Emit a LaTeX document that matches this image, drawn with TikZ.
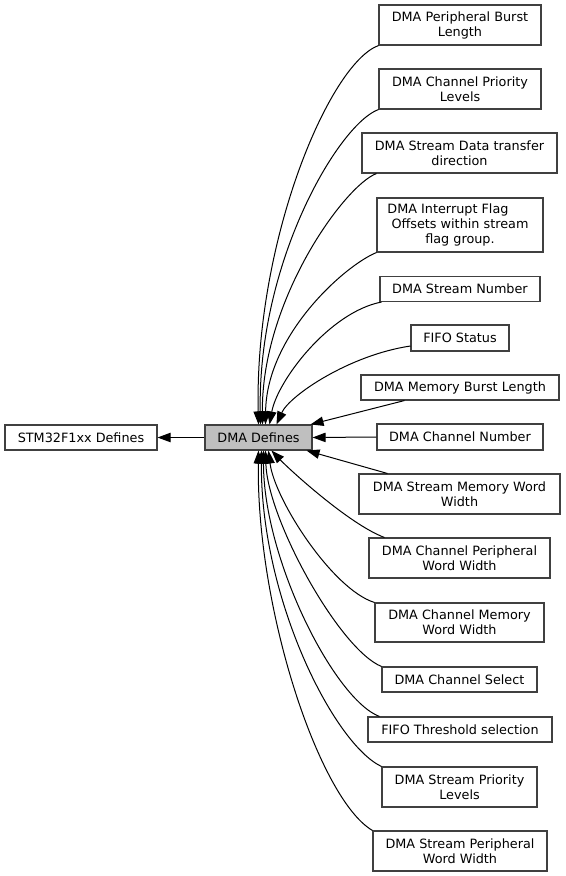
\documentclass[tikz,border=0pt]{standalone}
\usepackage{fontspec}
\setmainfont{DejaVu Sans}
\usetikzlibrary{arrows.meta,calc}
\definecolor{bd}{HTML}{404040}
\definecolor{hl}{HTML}{BFBFBF}
\tikzset{
  box/.style={draw=bd, line width=0.8pt, fill=white, inner sep=0pt, align=center,
    font=\fontsize{9.6pt}{11.3pt}\selectfont},
  wh/.style 2 args={minimum width=#1*0.75pt, minimum height=#2*0.75pt},
  edge/.style={draw=black, line width=0.75pt, -{Triangle[length=9.75pt,width=7pt]}}
}
\begin{document}
\begin{tikzpicture}[x=0.75pt,y=-0.75pt]
\useasboundingbox (0,0) rectangle (565,876);
% left nodes
\node[box, wh={152}{25}] (stm) at (81,437.5) {STM32F1xx Defines};
\node[box, wh={107}{25}, fill=hl] (dma) at (258.5,437.5) {DMA Defines};
% right nodes
\node[box, wh={162}{40}] (n1) at (460,25) {DMA Peripheral Burst\\Length};
\node[box, wh={162}{40}] (n2) at (460,89) {DMA Channel Priority\\Levels};
\node[box, wh={195}{40}] (n3) at (459.5,153) {DMA Stream Data transfer\\direction};
\node[box, wh={166}{54}] (n4) at (460,225) {DMA Interrupt Flag\hspace*{18pt}\\Offsets within stream\\flag group.};
\node[box, wh={160}{25}] (n5) at (460,289) {DMA Stream Number};
\node[box, wh={98}{26}] (n6) at (460,338) {FIFO Status};
\node[box, wh={198}{25}] (n7) at (460,387.5) {DMA Memory Burst Length};
\node[box, wh={166}{26}] (n8) at (460,437) {DMA Channel Number};
\node[box, wh={201}{40}] (n9) at (459.5,494) {DMA Stream Memory Word\\Width};
\node[box, wh={181}{40}] (n10) at (459.5,558) {DMA Channel Peripheral\\Word Width};
\node[box, wh={169}{39}] (n11) at (459.5,622.5) {DMA Channel Memory\\Word Width};
\node[box, wh={155}{25}] (n12) at (459.5,679.5) {DMA Channel Select};
\node[box, wh={184}{25}] (n13) at (460,729.5) {FIFO Threshold selection};
\node[box, wh={155}{40}] (n14) at (459.5,787) {DMA Stream Priority\\Levels};
\node[box, wh={174}{40}] (n15) at (460,851) {DMA Stream Peripheral\\Word Width};
% edges
\draw[edge] (dma.west) -- (stm.east);
\draw[edge] (n1.south west) .. controls +(-49,18) and +(-4,-184) .. ($(dma.north west)+(54,0)$);
\draw[edge] (n2.south west) .. controls +(-39,14) and +(-3,-164) .. ($(dma.north west)+(56,0)$);
\draw[edge] ($(n3.south west)+(15,0)$) .. controls +(-32,12) and +(-1,-124) .. ($(dma.north west)+(58,0)$);
\draw[edge] (n4.south west) .. controls +(-32,13) and +(1,-89) .. ($(dma.north west)+(61,0)$);
\draw[edge] ($(n5.south west)+(2,0)$) .. controls +(-52,10) and +(8,-44) .. ($(dma.north west)+(65,0)$);
\draw[edge] ($(n6.west)+(0,8)$) .. controls +(-61,9) and +(13,-29) .. ($(dma.north west)+(72,0)$);
\draw[edge] ($(n7.south west)+(44,0)$) -- ($(dma.north east)+(-2,0)$);
\draw[edge] (n8.west) -- (dma.east);
\draw[edge] ($(n9.north west)+(29,0)$) -- ($(dma.south east)+(-6,0)$);
\draw[edge] ($(n10.north west)+(16,0)$) .. controls +(-35,-13) and +(18,19) .. ($(dma.south west)+(67,0)$);
\draw[edge] (n11.north west) .. controls +(-42,-13) and +(6,49) .. ($(dma.south west)+(64,0)$);
\draw[edge] (n12.north west) .. controls +(-42,-17) and +(2,69) .. ($(dma.south west)+(61,0)$);
\draw[edge] ($(n13.north west)+(12,0)$) .. controls +(-45,-17) and +(0,109) .. ($(dma.south west)+(59,0)$);
\draw[edge] (n14.north west) .. controls +(-47,-22) and +(-1,149) .. ($(dma.south west)+(57,0)$);
\draw[edge] (n15.north west) .. controls +(-53,-31) and +(-2,160) .. ($(dma.south west)+(54,0)$);
\end{tikzpicture}
\end{document}
